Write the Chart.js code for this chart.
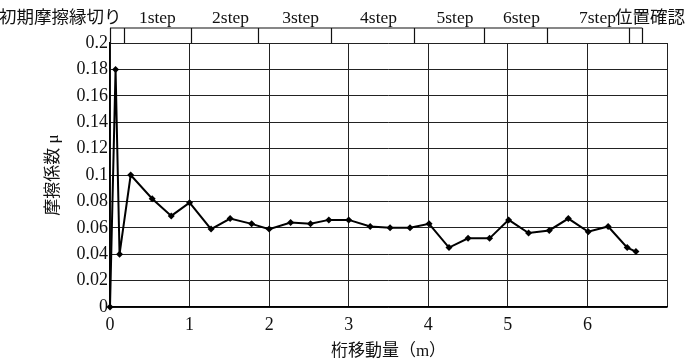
<html>
  <head>
    <script src="https://cdn.jsdelivr.net/npm/chart.js"></script>
    <style>
      body { margin: 0; background: #fff; }
      #wrap { width: 687px; height: 362px; }
    </style>
  </head>
  <body>
    <div id="wrap"><canvas id="mu_chart"></canvas></div>
    <script>
      // Data
      const move_m = [0, 0.07, 0.12, 0.26, 0.53, 0.77, 1.0, 1.27, 1.51, 1.78, 2.0, 2.27, 2.52, 2.75, 3.0,
        3.27, 3.52, 3.77, 4.01, 4.26, 4.5, 4.77, 5.01, 5.26, 5.52, 5.76, 6.01, 6.26, 6.5, 6.61];
      const mu = [0, 0.18, 0.04, 0.1, 0.082, 0.069, 0.079, 0.059, 0.067, 0.063, 0.059, 0.064, 0.063, 0.066, 0.066,
        0.061, 0.06, 0.06, 0.063, 0.045, 0.052, 0.052, 0.066, 0.056, 0.058, 0.067, 0.057, 0.061, 0.045, 0.042];

      // Step band above the plot (boundaries in m)
      const step_bounds = [0, 0.17, 1.02, 1.86, 2.78, 3.82, 4.70, 5.49, 6.52, 6.69];
      const step_labels = ["初期摩擦縁切り", "1step", "2step", "3step", "4step", "5step", "6step", "7step", "位置確認"];

      const y_title = "摩擦係数 μ";
      const x_title = "桁移動量（m）";

      const SERIF = "'Liberation Serif', 'Noto Sans CJK JP', serif";

      // Draws the step brackets on top of the plot area
      const stepBand = {
        id: "stepBand",
        afterDraw(chart) {
          const ctx = chart.ctx;
          const x = chart.scales.x;
          const top = chart.chartArea.top;
          const bandTop = top - 15;
          ctx.save();
          ctx.strokeStyle = "#111";
          ctx.lineWidth = 1.2;
          ctx.beginPath();
          ctx.moveTo(x.getPixelForValue(step_bounds[0]), bandTop);
          ctx.lineTo(x.getPixelForValue(step_bounds[step_bounds.length - 1]), bandTop);
          for (const b of step_bounds) {
            const px = Math.round(x.getPixelForValue(b)) + 0.5;
            ctx.moveTo(px, bandTop);
            ctx.lineTo(px, top);
          }
          ctx.stroke();

          ctx.fillStyle = "#111";
          ctx.font = "17.5px " + SERIF;
          ctx.textBaseline = "alphabetic";
          const base = bandTop - 5;
          for (let i = 0; i < step_labels.length; i++) {
            const a = x.getPixelForValue(step_bounds[i]);
            const b = x.getPixelForValue(step_bounds[i + 1]);
            if (i === 0) {
              ctx.textAlign = "right";
              ctx.fillText(step_labels[i], b - 2, base);
            } else if (i === step_labels.length - 1) {
              ctx.textAlign = "right";
              ctx.fillText(step_labels[i], chart.width - 2, base);
            } else if (i === step_labels.length - 2) {
              ctx.textAlign = "right";
              ctx.fillText(step_labels[i], chart.width - 71, base);
            } else {
              ctx.textAlign = "center";
              ctx.fillText(step_labels[i], (a + b) / 2 + (i === 1 ? 0 : 6), base);
            }
          }
          ctx.restore();
        },
      };

      new Chart("mu_chart", {
        type: "line",
        data: {
          datasets: [
            {
              data: move_m.map((m, i) => ({ x: m, y: mu[i] })),
              borderColor: "#000",
              backgroundColor: "#000",
              borderWidth: 2,
              pointStyle: "rectRot",
              pointRadius: 3.5,
              pointBorderWidth: 0,
              tension: 0,
              clip: false,
            },
          ],
        },
        plugins: [stepBand],
        options: {
          responsive: true,
          maintainAspectRatio: false,
          animation: false,
          layout: { autoPadding: false, padding: { top: 43, right: 20, left: 0, bottom: 0 } },
          plugins: { legend: { display: false }, tooltip: { enabled: false } },
          scales: {
            x: {
              type: "linear",
              min: 0,
              max: 7,
              afterFit: (s) => { s.height = 55; },
              ticks: {
                stepSize: 1,
                padding: 7,
                color: "#111",
                font: { family: SERIF, size: 18 },
                callback: (v) => (v === 7 ? "" : v),
              },
              grid: { color: "#222", lineWidth: 1, drawTicks: false },
              border: { color: "#000", width: 1.5 },
              title: {
                display: true,
                text: x_title,
                color: "#111",
                font: { family: SERIF, size: 17 },
                padding: 0,
              },
            },
            y: {
              min: 0,
              max: 0.2,
              afterFit: (s) => { s.width = 110; },
              ticks: {
                stepSize: 0.02,
                padding: 2,
                color: "#111",
                font: { family: SERIF, size: 18 },
                callback: (v) => String(+v.toFixed(2)),
              },
              grid: { color: "#222", lineWidth: 1, drawTicks: false },
              border: { color: "#000", width: 1.5 },
              title: {
                display: true,
                text: y_title,
                color: "#111",
                font: { family: SERIF, size: 17 },
                padding: { top: 43, bottom: 0 },
              },
            },
          },
        },
      });
    </script>
  </body>
</html>
